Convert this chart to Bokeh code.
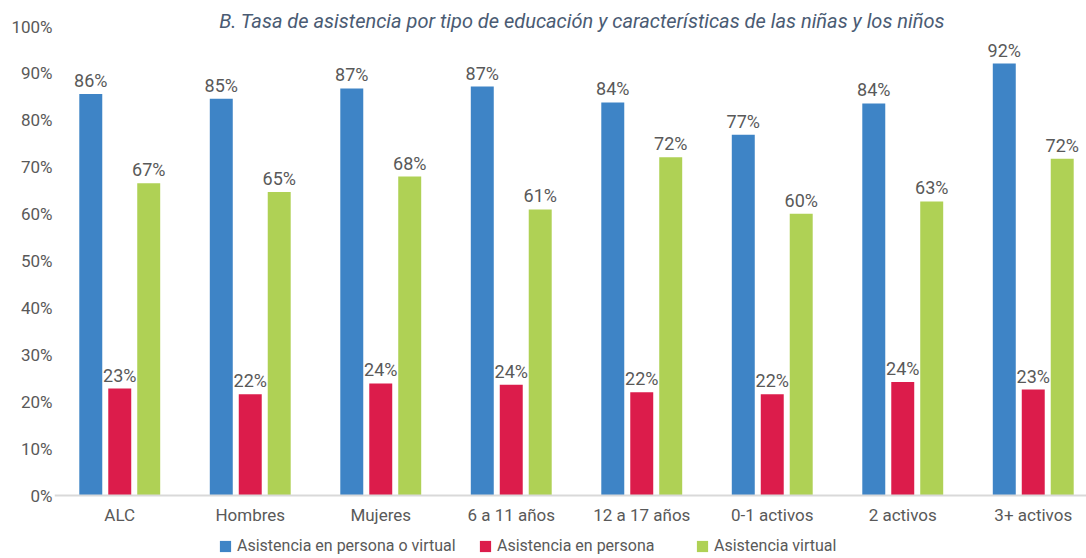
from bokeh.plotting import figure
from bokeh.models import Range1d, FixedTicker, Label, Legend, LegendItem, ColumnDataSource
from bokeh.core.properties import value
from bokeh.embed import file_html
from bokeh.resources import INLINE

categories = ["ALC", "Hombres", "Mujeres", "6 a 11 años", "12 a 17 años",
              "0-1 activos", "2 activos", "3+ activos"]
series_names = ["Asistencia en persona o virtual", "Asistencia en persona", "Asistencia virtual"]
persona_o_virtual = [85.6, 84.6, 86.8, 87.2, 83.8, 76.9, 83.6, 92.1]
en_persona = [22.8, 21.6, 23.9, 23.6, 22.0, 21.6, 24.2, 22.6]
virtual = [66.6, 64.7, 68.0, 61.0, 72.1, 60.1, 62.7, 71.8]
y_ticks = [0, 10, 20, 30, 40, 50, 60, 70, 80, 90, 100]
title_text = "B.  Tasa de asistencia por tipo de educación y características de las niñas y los niños"

colors = ["#3E84C6", "#DC1C4B", "#AFD155"]
offsets = [-0.222, 0.0, 0.222]
FONT = "Roboto"
TXT = "#595959"

W, H = 1086, 558
LEFT = 54
# 0% at y=495px, 100% at y=26px (from top)
ppu = (495 - 26) / 100.0
y_start = -(H - 495) / ppu
y_end = 100 + 26 / ppu

p = figure(width=W, height=H, output_backend="svg", toolbar_location=None,
           x_range=Range1d(0, (W - LEFT) / 130.5), y_range=Range1d(y_start, y_end),
           min_border_left=LEFT, min_border_right=0, min_border_top=0, min_border_bottom=0)
p.outline_line_color = None
p.grid.visible = False
p.background_fill_color = "white"
p.border_fill_color = "white"

renderers = []
for vals, col, off in zip([persona_o_virtual, en_persona, virtual], colors, offsets):
    xs = [i + 0.5 + off for i in range(len(categories))]
    src = ColumnDataSource(dict(x=xs, top=vals, lab=[f"{round(v)}%" for v in vals]))
    r = p.vbar(x="x", top="top", bottom=0, width=0.176, source=src, fill_color=col, line_color=None)
    renderers.append(r)
    p.text(x="x", y="top", text="lab", source=src, text_align="center", text_baseline="bottom",
           y_offset=-3, text_font=value(FONT), text_font_size="18px", text_color=TXT)

# x axis drawn at y = 0 inside the frame
p.xaxis.fixed_location = 0
p.xaxis.ticker = FixedTicker(ticks=[i + 0.5 for i in range(len(categories))])
p.xaxis.major_label_overrides = {i + 0.5: c for i, c in enumerate(categories)}
p.xaxis.axis_line_color = "#D9D9D9"
p.xaxis.axis_line_width = 2
p.xaxis.major_tick_line_color = None
p.xaxis.minor_tick_line_color = None
p.xaxis.major_tick_out = 0
p.xaxis.major_tick_in = 0
p.xaxis.major_label_standoff = 9
p.xaxis.major_label_text_font = FONT
p.xaxis.major_label_text_font_size = "17px"
p.xaxis.major_label_text_color = TXT

p.yaxis.ticker = FixedTicker(ticks=y_ticks)
p.yaxis.major_label_overrides = {t: f"{t}%" for t in y_ticks}
p.yaxis.axis_line_color = None
p.yaxis.major_tick_line_color = None
p.yaxis.minor_tick_line_color = None
p.yaxis.major_tick_out = 0
p.yaxis.major_tick_in = 0
p.yaxis.major_label_standoff = 2
p.yaxis.major_label_text_font = FONT
p.yaxis.major_label_text_font_size = "17px"
p.yaxis.major_label_text_color = TXT

# title
p.add_layout(Label(x=(584 - LEFT) / 130.5, y=(495 - 20) / ppu, text=title_text, text_align="center",
                   text_baseline="middle", text_font=FONT, text_font_style="italic",
                   text_font_size="20px", text_color="#4A5B73"))

# legends
for name, r, lx in zip(series_names, renderers, [218 - LEFT, 478 - LEFT, 695 - LEFT]):
    lg = Legend(items=[LegendItem(label=name, renderers=[r])], location=(lx, 3),
                orientation="horizontal", glyph_width=14, glyph_height=14, label_standoff=5,
                label_height=14, padding=0, margin=0, border_line_color=None,
                background_fill_alpha=0,
                label_text_font=FONT, label_text_font_size="16px", label_text_color=TXT)
    p.add_layout(lg, "center")

open("out.html", "w").write(file_html(p, INLINE))
